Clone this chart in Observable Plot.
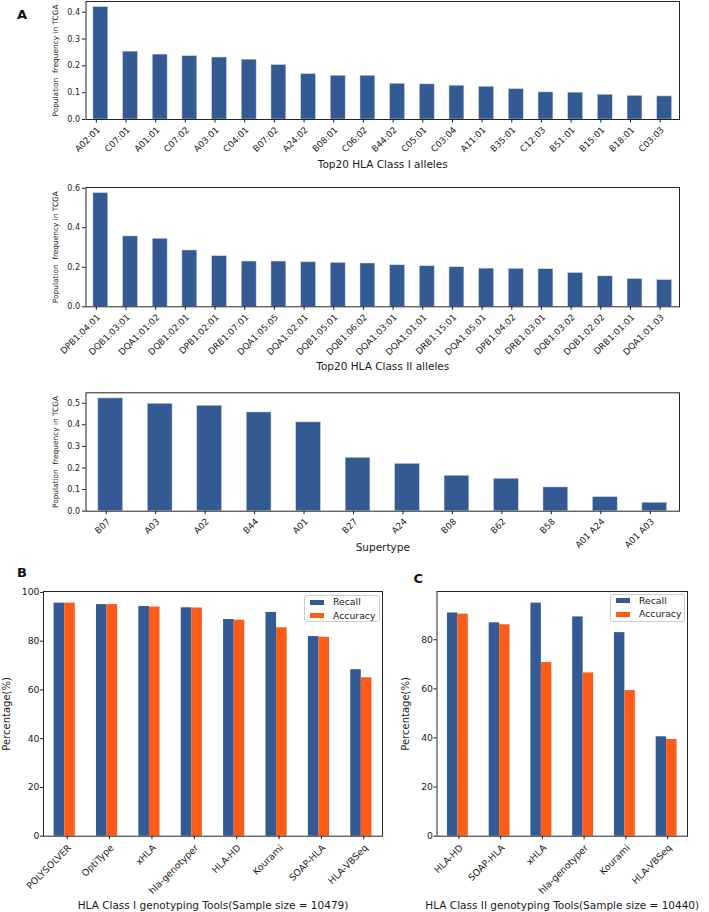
<!DOCTYPE html>
<html>
<head>
<meta charset="utf-8">
<script src="https://cdn.jsdelivr.net/npm/d3@7"></script>
<script src="https://cdn.jsdelivr.net/npm/@observablehq/plot@0.6"></script>
<style>
  body { margin: 0; background: #fff; font-family: "DejaVu Sans", sans-serif; }
  #root { position: relative; width: 709px; height: 912px; overflow: hidden; background: #fff; }
  #root > * { position: absolute; }
  .letter { font-weight: bold; font-size: 13px; line-height: 13px; color: #111; }
  .legend { border: 1px solid #cccccc; border-radius: 3px; background: rgba(255,255,255,0.85); box-sizing: border-box; }
  .legend .sw { position: absolute; width: 14px; height: 5px; }
  .legend .lt { position: absolute; font-size: 9.3px; line-height: 9.3px; color: #1a1a1a; white-space: nowrap; }
</style>
</head>
<body>
<div id="root"></div>
<script>
// ---------- data ----------
const class1Alleles = ["A02:01","C07:01","A01:01","C07:02","A03:01","C04:01","B07:02","A24:02","B08:01","C06:02","B44:02","C05:01","C03:04","A11:01","B35:01","C12:03","B51:01","B15:01","B18:01","C03:03"];
const class1Freq = [0.419,0.253,0.242,0.236,0.231,0.223,0.203,0.169,0.163,0.163,0.133,0.131,0.126,0.122,0.113,0.101,0.100,0.092,0.088,0.086];
const class1Ticks = [0, 0.1, 0.2, 0.3, 0.4];

const class2Alleles = ["DPB1:04:01","DQB1:03:01","DQA1:01:02","DQB1:02:01","DPB1:02:01","DRB1:07:01","DQA1:05:05","DQA1:02:01","DQB1:05:01","DQB1:06:02","DQA1:03:01","DQA1:01:01","DRB1:15:01","DQA1:05:01","DPB1:04:02","DRB1:03:01","DQB1:03:02","DQB1:02:02","DRB1:01:01","DQA1:01:03"];
const class2Freq = [0.575,0.356,0.344,0.285,0.256,0.229,0.229,0.225,0.222,0.219,0.210,0.205,0.200,0.193,0.192,0.190,0.171,0.154,0.140,0.135];
const class2Ticks = [0, 0.2, 0.4, 0.6];

const supertypes = ["B07","A03","A02","B44","A01","B27","A24","B08","B62","B58","A01 A24","A01 A03"];
const supertypeFreq = [0.522,0.497,0.488,0.457,0.411,0.247,0.219,0.164,0.150,0.110,0.065,0.039];
const supertypeTicks = [0, 0.1, 0.2, 0.3, 0.4, 0.5];

const seriesNames = ["Recall", "Accuracy"];

const class1Tools = ["POLYSOLVER","OptiType","xHLA","hla-genotyper","HLA-HD","Kourami","SOAP-HLA","HLA-VBSeq"];
const class1Recall = [95.6,95.0,94.2,93.7,88.9,91.8,81.9,68.3];
const class1Accuracy = [95.6,95.0,94.0,93.6,88.6,85.5,81.6,65.0];
const class1PctTicks = [0, 20, 40, 60, 80, 100];

const class2Tools = ["HLA-HD","SOAP-HLA","xHLA","hla-genotyper","Kourami","HLA-VBSeq"];
const class2Recall = [90.9,86.9,94.9,89.3,82.9,40.5];
const class2Accuracy = [90.4,86.1,70.7,66.5,59.3,39.4];
const class2PctTicks = [0, 20, 40, 60, 80];

// ---------- styling ----------
const BLUE = "#335a93", ORANGE = "#fd5c18";
const FONT = "'DejaVu Sans', sans-serif";
const INK = "#1a1a1a";
const root = document.getElementById("root");
function place(el, left, top) { el.style.left = left + "px"; el.style.top = top + "px"; root.appendChild(el); return el; }

function alleleChart({names, values, yTicks, xLabel, height, marginTop, marginBottom, xLabelOffset}) {
  const data = names.map((name, i) => ({name, value: values[i]}));
  return Plot.plot({
    width: 709, height, marginTop, marginBottom, marginLeft: 85.5, marginRight: 30,
    style: {fontFamily: FONT, color: INK, background: "transparent", overflow: "visible"},
    x: {domain: names, paddingInner: 0.5, paddingOuter: 0.25, round: false},
    y: {domain: [0, d3.max(values) * 1.05]},
    marks: [
      Plot.barY(data, {x: "name", y: "value", fill: BLUE, stroke: "#c6d3e6", strokeWidth: 0.5}),
      Plot.frame({stroke: "#262626", strokeWidth: 1}),
      Plot.axisY({ticks: yTicks, tickFormat: d3.format(".1f"), tickSize: 3.5, tickPadding: 2.5, fontSize: 8, label: null}),
      Plot.axisY({ticks: [], label: "Population\u00a0 frequency in TCGA", labelAnchor: "center", labelArrow: "none", labelOffset: 33, fontSize: 7.4}),
      Plot.axisX({tickRotate: -45, textAnchor: "end", lineAnchor: "top", tickSize: 3.5, tickPadding: 3, dx: -4.5, fontSize: 8.8, label: null}),
      Plot.axisX({ticks: [], label: xLabel, labelAnchor: "center", labelOffset: xLabelOffset, fontSize: 10.5})
    ]
  });
}

function toolChart({tools, recall, accuracy, yTicks, xLabel, width, marginLeft, marginRight, yLabelOffset, tickDx}) {
  const data = tools.map((tool, i) => ({tool, [seriesNames[0]]: recall[i], [seriesNames[1]]: accuracy[i]}));
  const half = (width - marginLeft - marginRight) / tools.length * 0.25;
  return Plot.plot({
    width, height: 332, marginTop: 11, marginBottom: 76.3, marginLeft, marginRight,
    style: {fontFamily: FONT, color: INK, background: "transparent", overflow: "visible"},
    x: {domain: tools, paddingInner: 0.5, paddingOuter: 0.25, round: false},
    y: {domain: [0, d3.max([...recall, ...accuracy]) * 1.05]},
    marks: [
      Plot.barY(data, {x: "tool", y: seriesNames[0], fill: BLUE, insetRight: half}),
      Plot.barY(data, {x: "tool", y: seriesNames[1], fill: ORANGE, insetLeft: half}),
      Plot.frame({stroke: "#262626", strokeWidth: 1}),
      Plot.axisY({ticks: yTicks, tickFormat: d3.format("d"), tickSize: 3, tickPadding: 1, fontSize: 9.3, label: null}),
      Plot.axisY({ticks: [], label: "Percentage(%)", labelAnchor: "center", labelArrow: "none", labelOffset: yLabelOffset, fontSize: 10}),
      Plot.axisX({tickRotate: -45, textAnchor: "end", lineAnchor: "top", tickSize: 3.5, tickPadding: 4, dx: tickDx, fontSize: 9.3, label: null}),
      Plot.axisX({ticks: [], label: xLabel, labelAnchor: "center", labelOffset: 73, fontSize: 10.5})
    ]
  });
}

function legend(left, top, width, height) {
  const box = document.createElement("div");
  box.className = "legend";
  box.style.width = width + "px";
  box.style.height = height + "px";
  const colors = [BLUE, ORANGE];
  seriesNames.forEach((name, i) => {
    const cy = 7 + i * 13.5;
    const sw = document.createElement("div");
    sw.className = "sw";
    sw.style.background = colors[i];
    sw.style.left = "5px";
    sw.style.top = (cy - 2.5 - 1) + "px";
    box.appendChild(sw);
    const t = document.createElement("div");
    t.className = "lt";
    t.textContent = name;
    t.style.left = "28.5px";
    t.style.top = (cy - 4.6 - 1) + "px";
    box.appendChild(t);
  });
  return place(box, left, top);
}

function letter(ch, left, top) {
  const d = document.createElement("div");
  d.className = "letter";
  d.textContent = ch;
  return place(d, left, top);
}

// ---------- panels ----------
place(alleleChart({names: class1Alleles, values: class1Freq, yTicks: class1Ticks,
  xLabel: "Top20 HLA Class I alleles", height: 180, marginTop: 1, marginBottom: 61, xLabelOffset: 48}), 0, 0);

place(alleleChart({names: class2Alleles, values: class2Freq, yTicks: class2Ticks,
  xLabel: "Top20 HLA Class II alleles", height: 200, marginTop: 7, marginBottom: 73.7, xLabelOffset: 63}), 0, 180);

place(alleleChart({names: supertypes, values: supertypeFreq, yTicks: supertypeTicks,
  xLabel: "Supertype", height: 180, marginTop: 12.3, marginBottom: 49.3, xLabelOffset: 40}), 0, 380);

place(toolChart({tools: class1Tools, recall: class1Recall, accuracy: class1Accuracy, yTicks: class1PctTicks,
  xLabel: "HLA Class I genotyping Tools(Sample size = 10479)", width: 400, marginLeft: 43, marginRight: 18,
  yLabelOffset: 41, tickDx: 2.5}), 0, 580);

place(toolChart({tools: class2Tools, recall: class2Recall, accuracy: class2Accuracy, yTicks: class2PctTicks,
  xLabel: "HLA Class II genotyping Tools(Sample size = 10440)", width: 319, marginLeft: 46.5, marginRight: 22,
  yLabelOffset: 35, tickDx: 1}), 390, 580);

legend(303.5, 595, 76, 27);
legend(609.5, 593.5, 75.5, 28);

letter("A", 17, 8.3);
letter("B", 17, 566.3);
letter("C", 413.5, 572.3);
</script>
</body>
</html>
